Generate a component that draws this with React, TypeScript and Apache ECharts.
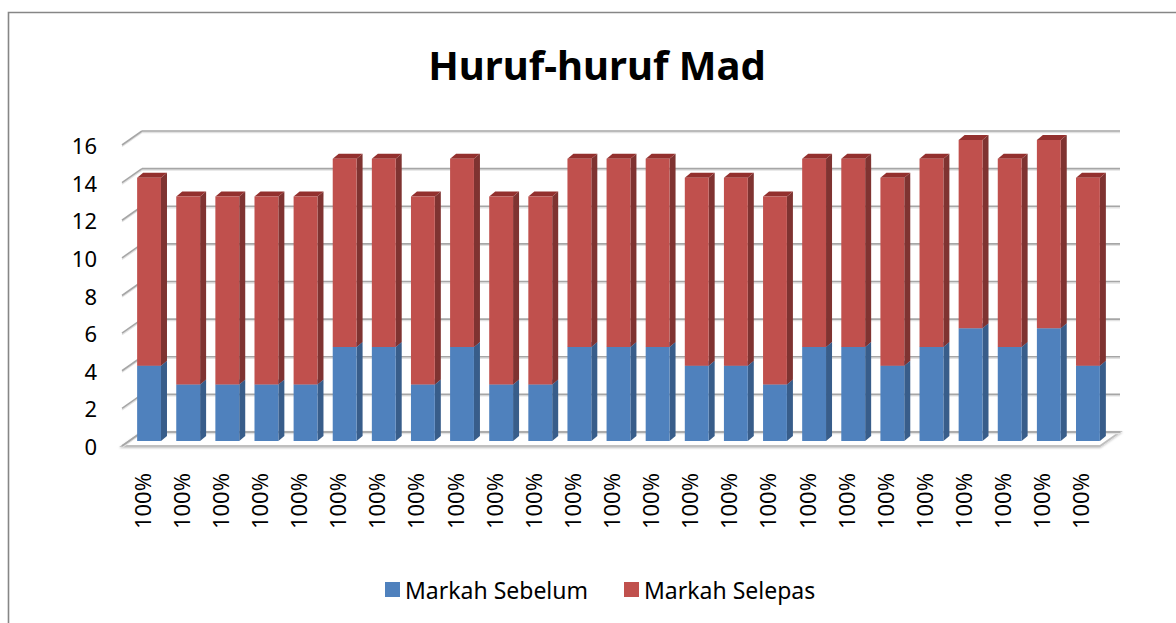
import React, { useEffect, useRef } from "react";
import * as echarts from "echarts";

const categories = [
  "100%", "100%", "100%", "100%", "100%", "100%", "100%", "100%", "100%", "100%",
  "100%", "100%", "100%", "100%", "100%", "100%", "100%", "100%", "100%", "100%",
  "100%", "100%", "100%", "100%", "100%",
];
const markahSebelum = [4, 3, 3, 3, 3, 5, 5, 3, 5, 3, 3, 5, 5, 5, 4, 4, 3, 5, 5, 4, 5, 6, 5, 6, 4];
const markahSelepas = [10, 10, 10, 10, 10, 10, 10, 10, 10, 10, 10, 10, 10, 10, 10, 10, 10, 10, 10, 10, 10, 10, 10, 10, 10];
const yTicks = [0, 2, 4, 6, 8, 10, 12, 14, 16];

const FONT = '"Noto Sans", "Open Sans", sans-serif';
// wall depth offsets (front plane -> back wall)
const WDX = 20;
const WDY = -14;
// bar front face offset from front plane, bar depth
const BOX = 7.5;
const BOY = -5;
const BDX = 6;
const BDY = -5;
const BAR_RATIO = 0.61;

function prism(front: string, side: string, top: string) {
  return (params: any, api: any) => {
    const i = api.value(0);
    const lo = api.value(1);
    const hi = api.value(2);
    const a = api.coord([i, lo]);
    const b = api.coord([i, hi]);
    const w = api.size([1, 0])[0] * BAR_RATIO;
    const x0 = a[0] - w / 2 + BOX;
    const x1 = x0 + w;
    const yb = a[1] + BOY;
    const yt = b[1] + BOY;
    return {
      type: "group",
      children: [
        {
          type: "polygon",
          shape: { points: [[x1, yb], [x1 + BDX, yb + BDY], [x1 + BDX, yt + BDY], [x1, yt]] },
          style: { fill: side },
        },
        {
          type: "polygon",
          shape: { points: [[x0, yt], [x1, yt], [x1 + BDX, yt + BDY], [x0 + BDX, yt + BDY]] },
          style: { fill: top },
        },
        {
          type: "rect",
          shape: { x: x0, y: yt, width: w, height: yb - yt },
          style: { fill: front },
        },
      ],
    };
  };
}

function walls(params: any, api: any) {
  const cs = params.coordSys;
  const v = api.value(1);
  const y = api.coord([0, v])[1];
  const xl = cs.x;
  const xr = cs.x + cs.width;
  const lineStyle = { stroke: "#A6A6A6", lineWidth: 1.6 };
  const shadowStyle = { stroke: "#E2E2E2", lineWidth: 1.4 };
  const children: any[] = [
    { type: "line", shape: { x1: xl + WDX, y1: y + WDY + 1.5, x2: xr + WDX, y2: y + WDY + 1.5 }, style: shadowStyle },
    { type: "line", shape: { x1: xl + WDX, y1: y + WDY, x2: xr + WDX, y2: y + WDY }, style: lineStyle },
    { type: "line", shape: { x1: xl, y1: y + 1.5, x2: xl + WDX, y2: y + WDY + 1.5 }, style: shadowStyle },
    { type: "line", shape: { x1: xl, y1: y, x2: xl + WDX, y2: y + WDY }, style: lineStyle },
  ];
  if (v === 0) {
    children.unshift({
      type: "polygon",
      shape: { points: [[xl, y], [xr, y], [xr + WDX, y + WDY], [xl + WDX, y + WDY]] },
      style: { fill: "#FFFFFF", stroke: "#BFBFBF", lineWidth: 1.8, shadowBlur: 2, shadowColor: "rgba(0,0,0,0.25)", shadowOffsetY: 1 },
    });
  }
  return { type: "group", children };
}

export default function App() {
  const ref = useRef<HTMLDivElement>(null);
  useEffect(() => {
    if (!ref.current) return;
    const chart = echarts.init(ref.current, null, { renderer: "svg" });
    const sebelumData = markahSebelum.map((v, i) => [i, 0, v]);
    const selepasData = markahSelepas.map((v, i) => [i, markahSebelum[i], markahSebelum[i] + v]);
    chart.setOption({
      animation: false,
      backgroundColor: "#FFFFFF",
      graphic: [
        {
          type: "rect",
          z: -10,
          shape: { x: 8.5, y: 12.5, width: 1400, height: 1000 },
          style: { fill: "none", stroke: "#868686", lineWidth: 1.6 },
        },
        {
          type: "text",
          x: 597,
          y: 64,
          style: {
            text: "Huruf-huruf Mad",
            fontFamily: FONT,
            fontWeight: "bold",
            fontSize: 40,
            fill: "#000000",
            align: "center",
            verticalAlign: "middle",
          },
        },
      ],
      legend: {
        data: ["Markah Sebelum", "Markah Selepas"],
        left: 380,
        top: 573,
        icon: "rect",
        itemWidth: 15,
        itemHeight: 15,
        itemGap: 36,
        textStyle: { fontFamily: FONT, fontSize: 23, color: "#000000", padding: [0, 0, 0, 0] },
        selectedMode: false,
      },
      grid: { left: 122, right: 76, top: 145, bottom: 177 },
      xAxis: {
        type: "category",
        data: categories,
        axisLine: { show: false },
        axisTick: { show: false },
        axisLabel: { interval: 0, rotate: 90, margin: 27, fontSize: 22, fontFamily: FONT, color: "#000000" },
      },
      yAxis: {
        type: "value",
        min: 0,
        max: 16,
        interval: 2,
        axisLine: { show: false },
        axisTick: { show: false },
        splitLine: { show: false },
        axisLabel: { margin: 25, fontSize: 22, fontFamily: FONT, color: "#000000" },
      },
      series: [
        {
          type: "custom",
          silent: true,
          z: 1,
          renderItem: walls,
          data: yTicks.map((v) => [0, v]),
          encode: { x: 0, y: 1 },
        },
        {
          name: "Markah Sebelum",
          type: "custom",
          z: 2,
          itemStyle: { color: "#4F81BD" },
          renderItem: prism("#4F81BD", "#385D8A", "#5A8AC4"),
          data: sebelumData,
          encode: { x: 0, y: [1, 2] },
        },
        {
          name: "Markah Selepas",
          type: "custom",
          z: 3,
          itemStyle: { color: "#C0504D" },
          renderItem: prism("#C0504D", "#7F3331", "#93302E"),
          data: selepasData,
          encode: { x: 0, y: [1, 2] },
        },
      ],
    });
    return () => chart.dispose();
  }, []);
  return (
    <div
      ref={ref}
      style={{ position: "absolute", left: 0, top: 0, width: 1176, height: 623, background: "#FFFFFF" }}
    />
  );
}
